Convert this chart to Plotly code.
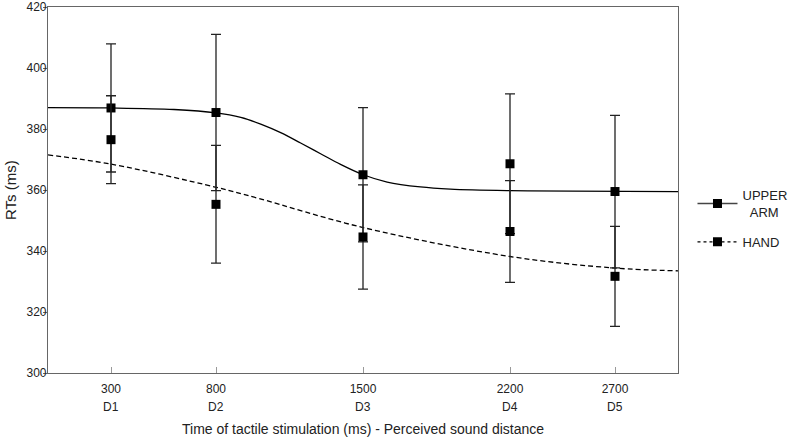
import plotly.graph_objects as go

# ---- data ----
soa_ms = [300, 800, 1500, 2200, 2700]
tick_labels = ["300", "800", "1500", "2200", "2700"]
distance_labels = ["D1", "D2", "D3", "D4", "D5"]

upper_arm_rt = [386.9, 385.4, 365.0, 368.6, 359.5]
upper_arm_err = [21.0, 25.6, 22.0, 22.9, 25.0]
hand_rt = [376.5, 355.3, 344.6, 346.4, 331.7]
hand_err = [14.4, 19.3, 17.1, 16.7, 16.4]

# fitted curves, points
upper_fit_x = [0, 300, 600, 800, 918, 1013, 1108, 1203, 1298, 1393, 1501, 1615, 1773, 1916, 2200, 2500, 3000]
upper_fit_y = [387.0, 386.9, 386.4, 385.3, 383.8, 381.6, 378.8, 375.4, 371.9, 368.4, 365.0, 362.6, 361.0, 360.3, 359.8, 359.6, 359.5]
hand_fit_x = [0, 300, 800, 1000, 1500, 2200, 2700, 3000]
hand_fit_y = [371.5, 368.5, 360.9, 357.3, 347.7, 338.2, 334.4, 333.5]

FONT = "Arial, Liberation Sans, sans-serif"
fig = go.Figure()

fig.add_trace(go.Scatter(x=upper_fit_x, y=upper_fit_y, mode="lines", line_shape="spline",
                         line=dict(color="black", width=1.3), showlegend=False, hoverinfo="skip"))
fig.add_trace(go.Scatter(x=hand_fit_x, y=hand_fit_y, mode="lines", line_shape="spline",
                         line=dict(color="black", width=1.3, dash="5px,3px"), showlegend=False,
                         hoverinfo="skip"))

err_style = dict(type="data", thickness=1.3, width=5, color="#222")
fig.add_trace(go.Scatter(x=soa_ms, y=upper_arm_rt, mode="markers",
                         marker=dict(symbol="square", size=9, color="black"),
                         error_y=dict(array=upper_arm_err, **err_style), showlegend=False))
fig.add_trace(go.Scatter(x=soa_ms, y=hand_rt, mode="markers",
                         marker=dict(symbol="square", size=9, color="black"),
                         error_y=dict(array=hand_err, **err_style), showlegend=False))

# legend entries
fig.add_trace(go.Scatter(x=[None], y=[None], mode="lines+markers", name="UPPER<br>&nbsp;&nbsp;ARM",
                         legendgroup="a",
                         line=dict(color="#444", width=1.3),
                         marker=dict(symbol="square", size=9, color="black")))
fig.add_trace(go.Scatter(x=[None], y=[None], mode="lines+markers", name="HAND",
                         legendgroup="b",
                         line=dict(color="black", width=1.3, dash="3px,3px"),
                         marker=dict(symbol="square", size=9, color="black")))

for xv, lab in zip(soa_ms, distance_labels):
    fig.add_annotation(x=xv, y=0, xref="x", yref="paper", text=lab, showarrow=False,
                       yanchor="middle", yshift=-34, font=dict(family=FONT, size=12, color="#222"))

fig.add_annotation(x=0.5, y=0, xref="paper", yref="paper", yanchor="middle", yshift=-56,
                   text="Time of tactile stimulation (ms) - Perceived sound distance",
                   showarrow=False, font=dict(family=FONT, size=14, color="#222"))
fig.add_annotation(x=0, y=0.5, xref="paper", yref="paper", xanchor="center", yanchor="middle",
                   xshift=-38, textangle=-90, text="RTs (ms)", showarrow=False,
                   font=dict(family=FONT, size=15, color="#222"))

# figure is wider than the window so the legend never pushes the plot margin
# (the area past the window is blank)
fig.update_layout(
    width=820, height=440,
    margin=dict(l=48, r=142, t=7, b=67),
    paper_bgcolor="white", plot_bgcolor="white",
    font=dict(family=FONT, size=12, color="#222"),
    legend=dict(x=1.023, y=0.527, xanchor="left", yanchor="top", itemwidth=40,
                font=dict(family=FONT, size=13, color="#222"), tracegroupgap=10,
                bgcolor="rgba(0,0,0,0)"),
    xaxis=dict(range=[0, 3000], tickvals=soa_ms, ticktext=tick_labels, automargin=False,
               ticks="inside", ticklen=6, tickcolor="#999", showgrid=False, zeroline=False,
               ticklabelstandoff=4,
               showline=True, linecolor="#666", linewidth=1.2, mirror=True),
    yaxis=dict(range=[300, 420], tickvals=[300, 320, 340, 360, 380, 400, 420], automargin=False,
               ticks="outside", ticklen=4, tickcolor="#666", showgrid=False, zeroline=False,
               ticklabelstandoff=-6, ticklabeloverflow="allow",
               showline=True, linecolor="#666", linewidth=1.2, mirror=True),
)

fig.write_html("out.html", config={"displayModeBar": False},
               post_script="document.body.style.margin='0';")
